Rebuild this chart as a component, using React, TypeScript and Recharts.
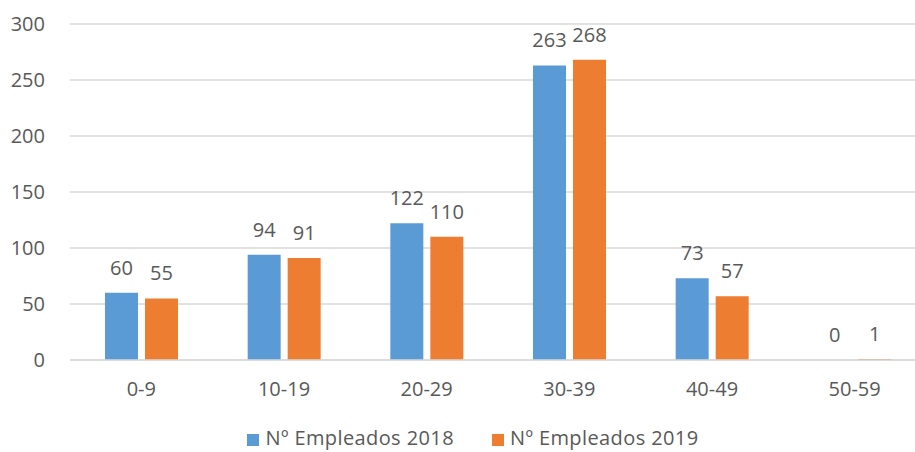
import React from "react";
import { BarChart, Bar, XAxis, YAxis, CartesianGrid, Legend, LabelList } from "recharts";

const categories = ["0-9", "10-19", "20-29", "30-39", "40-49", "50-59"];
const empleados2018 = [60, 94, 122, 263, 73, 0];
const empleados2019 = [55, 91, 110, 268, 57, 1];
const yTicks = [0, 50, 100, 150, 200, 250, 300];

const series = [
  { key: "e2018", name: "Nº Empleados 2018", color: "#5b9bd5" },
  { key: "e2019", name: "Nº Empleados 2019", color: "#ed7d31" },
];

const data = categories.map((rango, i) => ({
  rango,
  e2018: empleados2018[i],
  e2019: empleados2019[i],
}));

const font = "'Open Sans', sans-serif";
const textColor = "#595959";

const LegendContent = () => (
  <div style={{ display: "flex", justifyContent: "center", gap: 38, fontSize: 20, lineHeight: "20px", letterSpacing: 0.4, fontFamily: font, color: textColor, paddingLeft: 20 }}>
    {series.map((s) => (
      <div key={s.key} style={{ display: "flex", alignItems: "center" }}>
        <span style={{ width: 12, height: 12, background: s.color, marginRight: 6, marginTop: 4 }} />
        <span>{s.name}</span>
      </div>
    ))}
  </div>
);

const App: React.FC = () => {
  return (
    <div style={{ position: "absolute", left: 0, top: 0, width: 915, height: 452, overflow: "hidden", background: "#fff", fontFamily: font }}>
      <BarChart width={940} height={452} data={data} margin={{ top: 24, right: 14, left: 0, bottom: 0 }} barSize={33} barGap={7}>
        <CartesianGrid vertical={false} stroke="#d9d9d9" strokeWidth={1.5} />
        <XAxis
          dataKey="rango"
          axisLine={{ stroke: "#d9d9d9", strokeWidth: 1.5 }}
          tickLine={false}
          tickSize={0}
          tickMargin={22}
          height={72}
          tick={{ fill: textColor, fontSize: 20, fontFamily: font }}
        />
        <YAxis
          width={70}
          domain={[0, 300]}
          ticks={yTicks}
          axisLine={false}
          tickLine={false}
          tickSize={0}
          tickMargin={25}
          tick={{ fill: textColor, fontSize: 20, fontFamily: font }}
        />
        <Legend verticalAlign="bottom" content={<LegendContent />} wrapperStyle={{ bottom: 4 }} />
        <Bar dataKey="e2018" name={series[0].name} fill={series[0].color} minPointSize={0.01} isAnimationActive={false}>
          <LabelList dataKey="e2018" position="top" offset={18} fill={textColor} fontSize={20} fontFamily={font} />
        </Bar>
        <Bar dataKey="e2019" name={series[1].name} fill={series[1].color} minPointSize={0.01} isAnimationActive={false}>
          <LabelList dataKey="e2019" position="top" offset={18} fill={textColor} fontSize={20} fontFamily={font} />
        </Bar>
      </BarChart>
    </div>
  );
};

export default App;
